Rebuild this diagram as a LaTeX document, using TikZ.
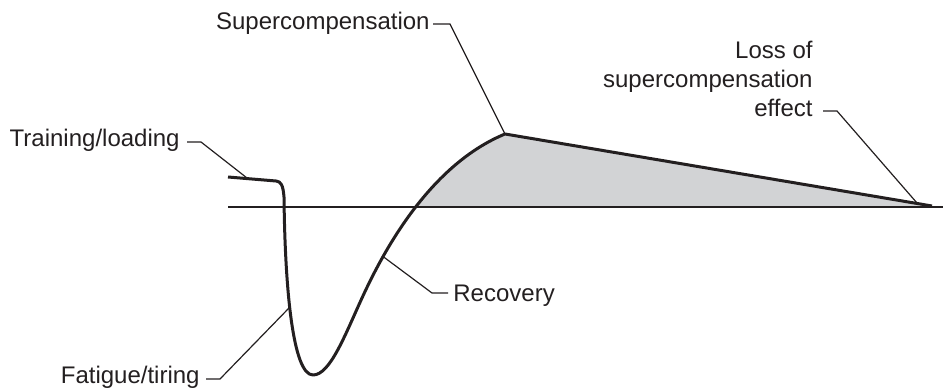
\documentclass[tikz,border=0pt]{standalone}
\usepackage{fontspec}
\setmainfont{Liberation Sans}
\usetikzlibrary{calc}
\definecolor{fillgray}{RGB}{210,211,213}
\definecolor{inkblack}{RGB}{35,31,32}

\begin{document}
\begin{tikzpicture}[x=0.5pt, y=-0.5pt,
    every node/.style={font=\fontsize{12}{14.5}\selectfont, text=inkblack, inner sep=0pt},
    leader/.style={draw=inkblack, line width=0.6pt},
    curve/.style={draw=inkblack, line width=1.5pt, line join=round}]
  \useasboundingbox (0,0) rectangle (946,389);

  \coordinate (plat) at (247,178);
  \coordinate (dip) at (289,308);
  \coordinate (rec) at (383,256.5);
  \coordinate (peak) at (505,134);
  \coordinate (lineend) at (932,206);
  \coordinate (lossend) at (917,203);

  \begin{scope}
    \clip (0,0) rectangle (946,207);
    \fill[fillgray] (362,298) .. controls (384,250) and (430,165) .. (peak) -- (lineend) -- (932,298) -- cycle;
  \end{scope}

  \draw[inkblack, line width=0.75pt] (228,207) -- (943,207);

  \draw[curve] (228,177) -- (276,181) .. controls (281,181.5) and (283,185) .. (284,197)
    .. controls (285,290) and (293,375) .. (313,375)
    .. controls (330,375) and (345,335) .. (362,298)
    .. controls (384,250) and (430,165) .. (peak) -- (lineend);

  \node[anchor=base east] (train) at (180,147) {Training/loading};
  \node[anchor=base east] (super) at (430,30) {Supercompensation};
  \node[anchor=south east, align=right] (loss) at (813,117) {Loss of\\supercompensation\\effect};
  \node[anchor=base west] (recov) at (453,301) {Recovery};
  \node[anchor=base east] (fatig) at (200,383) {Fatigue/tiring};

  \draw[leader] ([shift={(7,-5)}]train.base east) -- ++(14,0) -- (plat);
  \draw[leader] ([shift={(3,-6)}]super.base east) -- ++(17,0) -- (peak);
  \draw[leader] ([shift={(10,-6)}]loss.south east) -- ++(14,0) -- (lossend);
  \draw[leader] ([shift={(-5,-8)}]recov.base west) -- ++(-16,0) -- (rec);
  \draw[leader] ([shift={(6,-4)}]fatig.base east) -- ++(14,0) -- (dip);
\end{tikzpicture}
\end{document}
